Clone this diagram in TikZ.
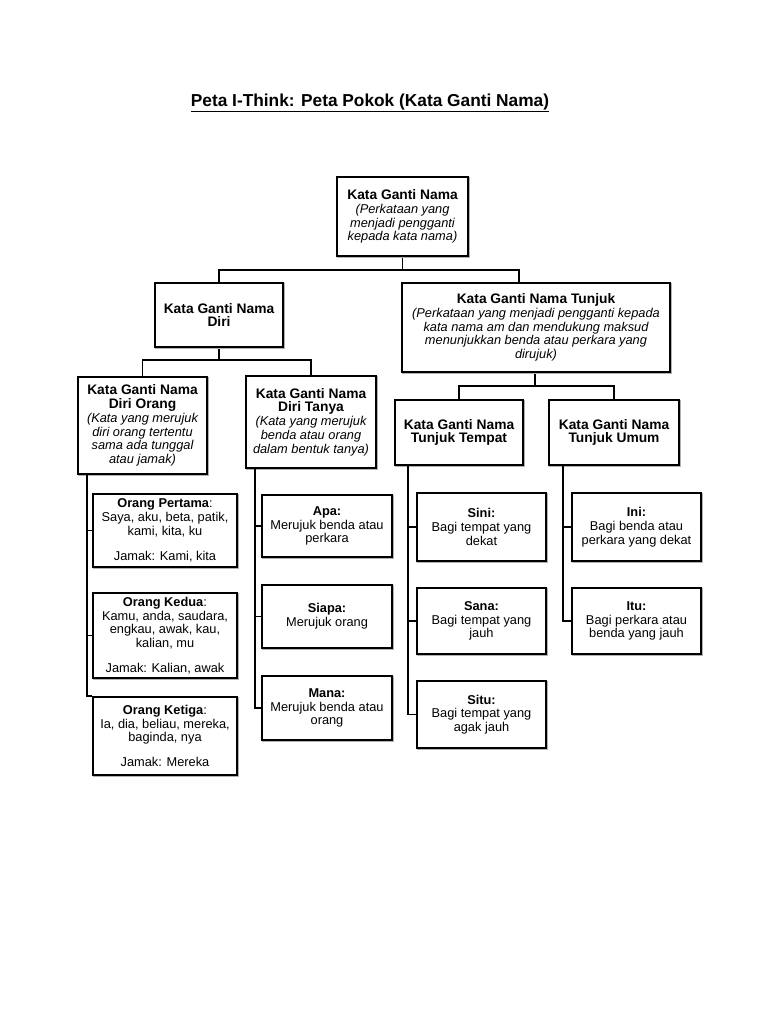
\documentclass[tikz,border=0pt]{standalone}
\usepackage{fontspec}
\setmainfont{Liberation Sans}
\tikzstyle{chart} = [x = 1pt, y = -1pt]
\tikzstyle{boxStyle} = [draw=black, fill=white, line width=2.2pt, align=center, inner sep=2pt, font=\itemFont,
  preaction={draw=black!30, line width=2.2pt, transform canvas={shift={(1.3pt,-1.3pt)}}}]
\tikzstyle{branchLine} = [draw=black, line width=1.6pt]
\newcommand{\headFont}{\fontsize{13.8}{14.5}\selectfont\bfseries}
\newcommand{\noteFont}{\fontsize{12.8}{13.2}\selectfont\mdseries\itshape}
\newcommand{\itemFont}{\fontsize{12.8}{13.8}\selectfont}
\newcommand{\chartBox}[6]{\node [boxStyle, minimum width=#4, minimum height=#5] (#1) at (#2,#3) {#6};}
\begin{document}
\begin{tikzpicture}[chart]
  \useasboundingbox [fill=white] (0,0) rectangle (768,1024);
  \node (title) at (370,103) {\fontsize{17.3}{19}\selectfont\bfseries\underline{Peta I-Think: Peta Pokok (Kata Ganti Nama)}};

  % tree lines
  \coordinate (rootJoin) at (402.5,270);
  \coordinate (tunjukTop) at (519,283);
  \draw [branchLine] (402.5,256) -- (rootJoin);
  \draw [branchLine] (219,283) |- (rootJoin) -| (tunjukTop);
  \draw [branchLine] (219,347) -- (219,360) coordinate (diriJoin);
  \draw [branchLine] (142.5,377) |- (diriJoin) -| (311,376);
  \draw [branchLine] (535,372) -- (535,386) coordinate (tunjukJoin);
  \draw [branchLine] (459,400) |- (tunjukJoin) -| (614,400);

  % upper levels
  \chartBox{root}{402.5}{216.5}{131pt}{79pt}{\headFont Kata Ganti Nama\\\noteFont (Perkataan yang\\\noteFont menjadi pengganti\\\noteFont kepada kata nama)}
  \chartBox{diri}{219}{315}{128pt}{64pt}{\headFont Kata Ganti Nama\\\headFont Diri}
  \chartBox{tunjuk}{536}{327.5}{268pt}{89pt}{\headFont Kata Ganti Nama Tunjuk\\\noteFont (Perkataan yang menjadi pengganti kepada\\\noteFont kata nama am dan mendukung maksud\\\noteFont menunjukkan benda atau perkara yang\\\noteFont dirujuk)}
  \chartBox{orang}{142.5}{425.5}{129pt}{97pt}{\headFont Kata Ganti Nama\\\headFont Diri Orang\\\noteFont (Kata yang merujuk\\\noteFont diri orang tertentu\\\noteFont sama ada tunggal\\\noteFont atau jamak)}
  \chartBox{tanya}{311}{422}{130pt}{92pt}{\headFont Kata Ganti Nama\\\headFont Diri Tanya\\\noteFont (Kata yang merujuk\\\noteFont benda atau orang\\\noteFont dalam bentuk tanya)}
  \chartBox{tempat}{459}{432.5}{128pt}{65pt}{\headFont Kata Ganti Nama\\\headFont Tunjuk Tempat}
  \chartBox{umum}{614}{432.5}{130pt}{65pt}{\headFont Kata Ganti Nama\\\headFont Tunjuk Umum}

  \coordinate (orangTrunk) at (87,0);
  \coordinate (tanyaTrunk) at (255,0);
  \coordinate (tempatTrunk) at (408,0);
  \coordinate (umumTrunk) at (563,0);

  % leaves
  \chartBox{pertama}{165}{530.5}{144pt}{73pt}{\textbf{Orang Pertama}:\\Saya, aku, beta, patik,\\kami, kita, ku\\[11pt]Jamak: Kami, kita}
  \chartBox{kedua}{165}{635.5}{144pt}{85pt}{\textbf{Orang Kedua}:\\Kamu, anda, saudara,\\engkau, awak, kau,\\kalian, mu\\[11pt]Jamak: Kalian, awak}
  \chartBox{ketiga}{165}{736}{144pt}{78pt}{\textbf{Orang Ketiga}:\\Ia, dia, beliau, mereka,\\baginda, nya\\[11pt]Jamak: Mereka}
  \chartBox{apa}{327}{526}{130pt}{62pt}{\textbf{Apa:}\\Merujuk benda atau\\perkara}
  \chartBox{siapa}{327}{616.5}{130pt}{63pt}{\textbf{Siapa:}\\Merujuk orang}
  \chartBox{mana}{327}{708}{130pt}{64pt}{\textbf{Mana:}\\Merujuk benda atau\\orang}
  \chartBox{sini}{481.5}{527}{129pt}{68pt}{\textbf{Sini:}\\Bagi tempat yang\\dekat}
  \chartBox{sana}{481.5}{621}{129pt}{66pt}{\textbf{Sana:}\\Bagi tempat yang\\jauh}
  \chartBox{situ}{481.5}{714.5}{129pt}{67pt}{\textbf{Situ:}\\Bagi tempat yang\\agak jauh}
  \chartBox{ini}{636.5}{527}{129pt}{68pt}{\textbf{Ini:}\\Bagi benda atau\\perkara yang dekat}
  \chartBox{itu}{636.5}{621}{129pt}{66pt}{\textbf{Itu:}\\Bagi perkara atau\\benda yang jauh}

  \draw [branchLine] (orang.south -| orangTrunk) |- (pertama.west);
  \draw [branchLine] (orang.south -| orangTrunk) |- (kedua.west);
  \draw [branchLine] (orang.south -| orangTrunk) |- (ketiga.north west);
  \draw [branchLine] (tanya.south -| tanyaTrunk) |- (apa.west);
  \draw [branchLine] (tanya.south -| tanyaTrunk) |- (siapa.west);
  \draw [branchLine] (tanya.south -| tanyaTrunk) |- (mana.west);
  \draw [branchLine] (tempat.south -| tempatTrunk) |- (sini.west);
  \draw [branchLine] (tempat.south -| tempatTrunk) |- (sana.west);
  \draw [branchLine] (tempat.south -| tempatTrunk) |- (situ.west);
  \draw [branchLine] (umum.south -| umumTrunk) |- (ini.west);
  \draw [branchLine] (umum.south -| umumTrunk) |- (itu.west);
\end{tikzpicture}
\end{document}
